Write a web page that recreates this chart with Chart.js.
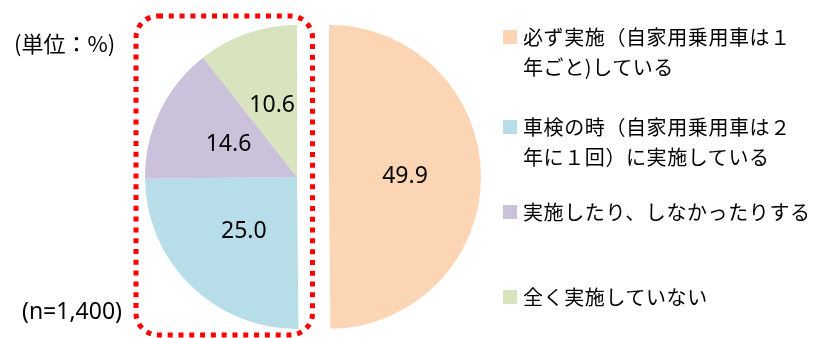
<!DOCTYPE html>
<html>
<head>
<meta charset="utf-8">
<script src="https://cdn.jsdelivr.net/npm/chart.js@4.4.1/dist/chart.umd.min.js"></script>
<style>
  html, body { margin: 0; padding: 0; background: #fff; }
  #wrap { position: relative; width: 818px; height: 338px; overflow: hidden; }
  #pieChart { position: absolute; left: 0; top: 0; }
  .note { position: absolute; color: #000; white-space: nowrap; }
  #unit { left: 14px; top: 26px; font: 22px "Noto Sans CJK JP", sans-serif; }
  #count { left: 22px; top: 294px; font: 23px "Noto Sans", sans-serif; }
  #legend { position: absolute; left: 0; top: 0; }
  .item { position: absolute; left: 503px; font: 20px "Noto Sans CJK JP", sans-serif; line-height: 30px; color: #000; }
  .item .box { position: absolute; left: 0; top: 8px; width: 14px; height: 14px; }
  .item .txt { margin-left: 20px; white-space: nowrap; letter-spacing: 0.6px; }
</style>
</head>
<body>
<div id="wrap">
  <canvas id="pieChart" width="818" height="338"></canvas>
  <div class="note" id="unit">(単位：%)</div>
  <div class="note" id="count">(n=1,400)</div>
  <div id="legend"></div>
</div>
<script>
'use strict';

/*global Chart*/
var labels = [
   "必ず実施（自家用乗用車は１\n年ごと)している",
   "車検の時（自家用乗用車は２\n年に１回）に実施している",
   "実施したり、しなかったりする",
   "全く実施していない"
];
var shares = [49.9, 25.0, 14.6, 10.6];
var sliceColors = ["#fcd5b5", "#b7dde8", "#ccc1da", "#d7e4bd"];
// how far each slice is pulled out of the pie, px
var explodeBy = [32, 0, 0, 0];

// top of each legend entry, px
var legendTops = [22, 112, 197, 282];

function buildLegend() {
   var html = "";
   labels.forEach(function(label, i) {
      html += "<div class=\"item\" style=\"top:" + legendTops[i] + "px\">" +
         "<span class=\"box\" style=\"background:" + sliceColors[i] + "\"></span>" +
         "<div class=\"txt\">" + label.split("\n").join("<br>") + "</div></div>";
   });
   document.getElementById("legend").innerHTML = html;
}

// move exploded slices along their mid angle without growing them
// (the built-in offset option also enlarges the arc radius)
var explodeSlices = {
   id: 'explodeSlices',
   afterDatasetUpdate: function(chart, args) {
      args.meta.data.forEach(function(arc, i) {
         var d = explodeBy[i];
         if (!d) {
            return;
         }
         var mid = (arc.startAngle + arc.endAngle) / 2;
         arc.x += Math.cos(mid) * d;
         arc.y += Math.sin(mid) * d;
      });
   }
};

// value text in the middle of every slice
var sliceValues = {
   id: 'sliceValues',
   afterDatasetsDraw: function(chart) {
      var ctx = chart.ctx;
      var meta = chart.getDatasetMeta(0);
      ctx.save();
      ctx.font = '23px "Noto Sans", sans-serif';
      ctx.fillStyle = '#000';
      ctx.textAlign = 'center';
      ctx.textBaseline = 'middle';
      meta.data.forEach(function(arc, i) {
         var p = arc.getCenterPoint();
         ctx.fillText(shares[i].toFixed(1), p.x, p.y);
      });
      ctx.restore();
   }
};

// red dotted frame around the left half of the pie
var dottedFrame = {
   id: 'dottedFrame',
   afterDraw: function(chart) {
      var arc = chart.getDatasetMeta(0).data[1];
      var cx = arc.x, cy = arc.y, r = arc.outerRadius;
      var left = cx - r - 9, right = cx + 15.5;
      var top = cy - r - 9, bottom = cy + r + 6;
      var ctx = chart.ctx;
      ctx.save();
      ctx.strokeStyle = '#ff0000';
      ctx.lineWidth = 5;
      ctx.setLineDash([5, 5.8]);
      ctx.beginPath();
      ctx.roundRect(left, top, right - left, bottom - top, 22);
      ctx.stroke();
      ctx.restore();
   }
};

buildLegend();

new Chart(document.getElementById("pieChart"), {
   type: 'pie',
   data: {
      labels: labels,
      datasets: [{
         data: shares,
         backgroundColor: sliceColors,
         hoverBackgroundColor: sliceColors,
         hoverOffset: 0,
         borderWidth: 0
      }]
   },
   options: {
      responsive: false,
      animation: false,
      radius: 152,
      layout: { padding: { left: 0, right: 224, top: 16, bottom: 0 } },
      plugins: {
         legend: { display: false },
         tooltip: { enabled: false }
      },
      events: []
   },
   plugins: [explodeSlices, sliceValues, dottedFrame]
});
</script>
</body>
</html>
